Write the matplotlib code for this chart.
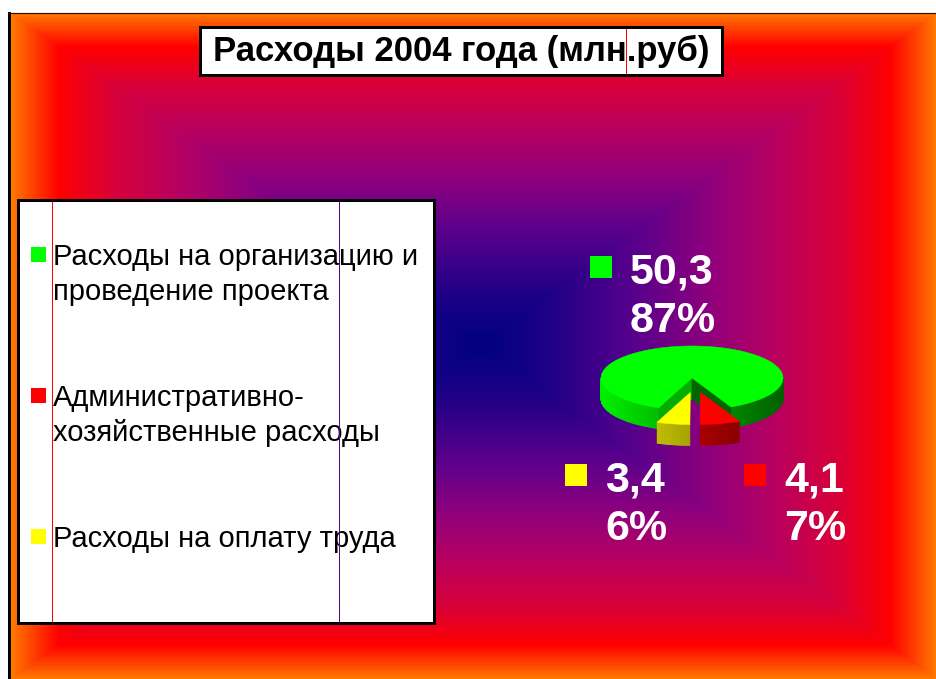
import numpy as np
import matplotlib
matplotlib.use('Agg')
import matplotlib.pyplot as plt
from matplotlib.patches import Polygon, Rectangle
from matplotlib.colors import LinearSegmentedColormap, to_rgb

# ---------------- data ----------------
title = "Расходы 2004 года (млн.руб)"
categories = ["Расходы на организацию и\nпроведение проекта",
              "Административно-\nхозяйственные расходы",
              "Расходы на оплату труда"]
values = [50.3, 4.1, 3.4]
value_labels = ["50,3", "4,1", "3,4"]
colors = ["#00FF00", "#FF0000", "#FFFF00"]
exploded = [False, True, True]

# ---------------- layout / style ----------------
W, H = 937, 679
FONT = 'Liberation Sans'
PX = 72 / 100.0  # points per pixel

fig = plt.figure(figsize=(W / 100, H / 100), dpi=100)
ax = fig.add_axes([0, 0, 1, 1])

# background rectangular gradient
x0, y0 = 11, 13
xs = np.arange(x0, W) + 0.5
ys = np.arange(y0, H) + 0.5
X, Y = np.meshgrid(xs, ys)
gcx, gcy = 480, 345
hx = np.where(X < gcx, gcx - x0, W - gcx)
hy = np.where(Y < gcy, gcy - y0, H - gcy)
T = np.maximum(np.abs(X - gcx) / hx, np.abs(Y - gcy) / hy)
stops = [(0.00, (0, 0, 128)), (0.15, (30, 0, 135)), (0.35, (92, 0, 140)),
         (0.50, (142, 0, 125)), (0.65, (185, 0, 95)), (0.78, (215, 0, 58)),
         (0.90, (255, 0, 0)), (1.00, (255, 120, 0))]
cmap = LinearSegmentedColormap.from_list('bg', [(p, tuple(c / 255 for c in rgb)) for p, rgb in stops])
ax.imshow(T, cmap=cmap, vmin=0, vmax=1, extent=(x0, W, H, y0),
          interpolation='bilinear', aspect='auto', zorder=0)

ax.set_xlim(0, W)
ax.set_ylim(H, 0)
ax.axis('off')

# frame borders
ax.add_patch(Rectangle((8, 12), 3, H - 12, facecolor='black', edgecolor='none', zorder=1))
ax.plot([8, W], [12.5, 12.5], color='#301000', lw=1.2 * PX, zorder=1)

# ---------------- title ----------------
ax.add_patch(Rectangle((200, 27), 522, 48, facecolor='white', edgecolor='black',
                       lw=3 * PX, zorder=2))
ax.text(461, 61, title, ha='center', va='baseline', fontsize=25, fontweight='bold',
        family=FONT, color='black', zorder=3)
ax.plot([626, 626], [29, 73], color='red', lw=1 * PX, zorder=4)

# ---------------- legend ----------------
ax.add_patch(Rectangle((18, 200), 416, 423, facecolor='white', edgecolor='black',
                       lw=3 * PX, zorder=2))
for i, (lab, col) in enumerate(zip(categories, colors)):
    base = 265 + i * 141
    ax.add_patch(Rectangle((31, base - 18), 15, 15, facecolor=col, edgecolor='none', zorder=3))
    for j, line in enumerate(lab.split('\n')):
        ax.text(53, base + j * 35, line, ha='left', va='baseline', fontsize=21,
                family=FONT, color='black', zorder=3)
ax.plot([52, 52], [202, 621], color='red', lw=1 * PX, zorder=4)
ax.plot([339, 339], [202, 621], color='#5a0088', lw=1 * PX, zorder=4)

# ---------------- 3D pie ----------------
cx, cy = 692, 378
rx, ry = 91, 32
depth = 21
explode_r = 0.46
explode_xscale, explode_xshift = 0.6, 3.0
start = 248.6  # math degrees, slices drawn clockwise
total = sum(values)
pcts = [round(v / total * 100) for v in values]


def shade(col, f):
    r, g, b = to_rgb(col)
    return (min(1, r * f), min(1, g * f), min(1, b * f))


def pt(ox, oy, th, dz=0.0):
    t = np.radians(th)
    return (cx + ox + rx * np.cos(t), cy + oy - ry * np.sin(t) + dz)


angles = []
a = start
for v in values:
    span = v / total * 360
    angles.append((a - span, a))  # (end, start) clockwise
    a -= span

for k, ((a_end, a_start), col, ex) in enumerate(zip(angles, colors, exploded)):
    mid = np.radians((a_end + a_start) / 2)
    if ex:
        ox = explode_xshift + explode_xscale * explode_r * rx * np.cos(mid)
        oy = -explode_r * ry * np.sin(mid)
    else:
        ox = oy = 0.0
    z = 5 + k * 3
    # outer wall, visible where sin < 0
    th = np.linspace(a_end, a_start, int(abs(a_start - a_end) * 2) + 2)
    for t1, t2 in zip(th[:-1], th[1:]):
        tm = ((t1 + t2) / 2) % 360
        if not (180 <= tm <= 360):
            continue
        f = 0.66 - 0.28 * np.cos(np.radians(tm))
        c = shade(col, f)
        poly = [pt(ox, oy, t1), pt(ox, oy, t2), pt(ox, oy, t2, depth), pt(ox, oy, t1, depth)]
        ax.add_patch(Polygon(poly, closed=True, facecolor=c, edgecolor=c, lw=0.4, zorder=z))
    # radial cut faces
    for face_ang, normal in ((a_start, a_start + 90), (a_end, a_end - 90)):
        if np.sin(np.radians(normal)) < -0.05:
            f = 0.55 - 0.35 * np.cos(np.radians(face_ang))
            c = shade(col, f)
            ctr = (cx + ox, cy + oy)
            poly = [ctr, pt(ox, oy, face_ang), pt(ox, oy, face_ang, depth), (ctr[0], ctr[1] + depth)]
            ax.add_patch(Polygon(poly, closed=True, facecolor=c, edgecolor=c, lw=0.4, zorder=z + 0.5))
    # top face
    th = np.linspace(a_end, a_start, int(abs(a_start - a_end) * 2) + 2)
    poly = [(cx + ox, cy + oy)] + [pt(ox, oy, t) for t in th]
    ax.add_patch(Polygon(poly, closed=True, facecolor=col, edgecolor=col, lw=0.4, zorder=z + 1))

# data labels
label_pos = [(630, 283), (784, 491), (605, 491)]
for (tx, tb), vl, p, col in zip(label_pos, value_labels, pcts, colors):
    ax.add_patch(Rectangle((tx - 40, tb - 27), 22, 22, facecolor=col, edgecolor='none', zorder=20))
    ax.text(tx, tb, vl, ha='left', va='baseline', fontsize=31, fontweight='bold',
            family=FONT, color='white', zorder=20)
    ax.text(tx, tb + 49, f"{p}%", ha='left', va='baseline', fontsize=31, fontweight='bold',
            family=FONT, color='white', zorder=20)

fig.savefig('out.png', dpi=100, facecolor='white')
